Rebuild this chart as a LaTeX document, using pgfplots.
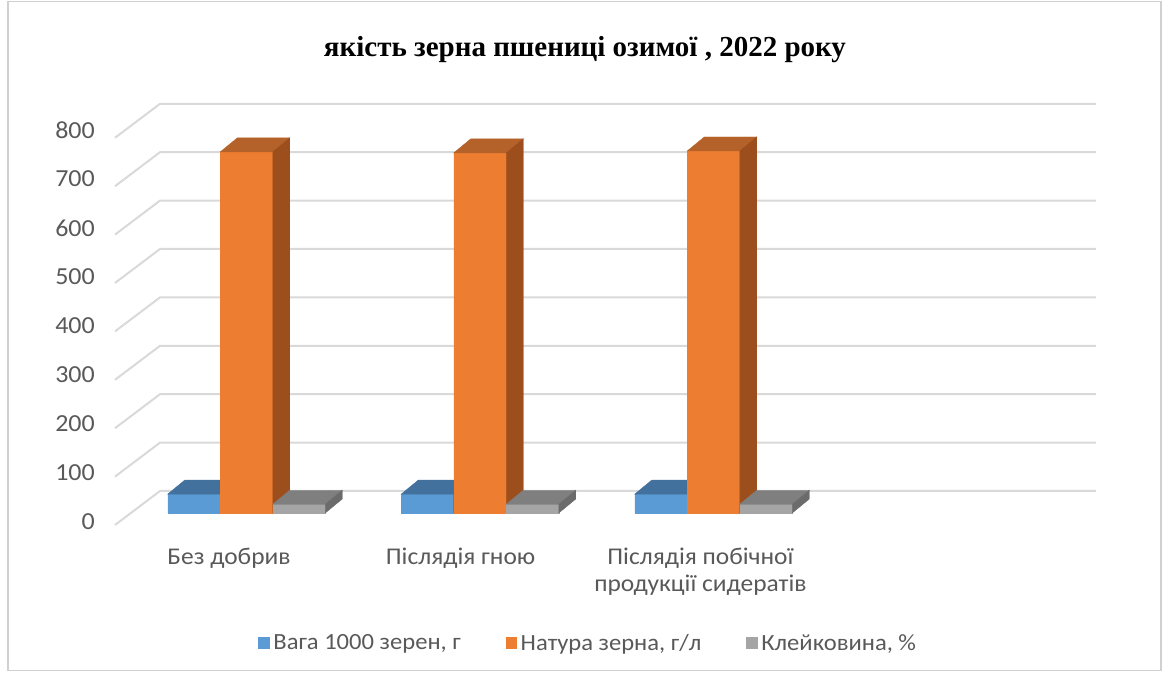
\documentclass[border=0pt]{standalone}
\usepackage{pgfplots}
\pgfplotsset{compat=1.18}
\usepackage{pgfplotstable}
\usepackage{fontspec}
\setmainfont{Carlito}[FakeStretch=1.06]
\newfontfamily\titlefont{Liberation Serif}
\definecolor{bluef}{HTML}{5B9BD5}
\definecolor{bluet}{HTML}{41719C}
\definecolor{blues}{HTML}{3A6590}
\definecolor{orangef}{HTML}{ED7D31}
\definecolor{oranget}{HTML}{B5622A}
\definecolor{oranges}{HTML}{9C4F1D}
\definecolor{grayf}{HTML}{A5A5A5}
\definecolor{grayt}{HTML}{7F7F7F}
\definecolor{grays}{HTML}{6B6B6B}
\definecolor{gridc}{HTML}{D9D9D9}
\definecolor{textc}{HTML}{595959}
\definecolor{framec}{HTML}{D0D0D0}

\pgfdeclareplotmark{nothing}{}

% group, weight of 1000 grains (g), test weight (g/l), gluten (%)
\pgfplotstableread{
g v1 v2 v3
0 39 746 18
1 39 744 18
2 39 748 18
}\data

\pgfplotsset{
 cube/.style n args={4}{only marks, mark=nothing, scatter, forget plot,
   visualization depends on={\thisrow{#1}*0.484 \as \hh},
   scatter/@pre marker code/.code={%
     \fill[#4] (-26.25pt,-\hh pt) rectangle (26.25pt,0pt);
     \fill[#2] (-26.25pt,0pt) -- (26.25pt,0pt) -- (43.25pt,14pt) -- (-9.25pt,14pt) -- cycle;
     \fill[#3] (26.25pt,0pt) -- (43.25pt,14pt) -- (43.25pt,14pt-\hh pt) -- (26.25pt,-\hh pt) -- cycle;
   },
   scatter/@post marker code/.code={}}
}

\begin{document}
\begin{tikzpicture}
\useasboundingbox (0,0) rectangle (1166pt,673pt);
\begin{axis}[
  at={(0pt,0pt)}, anchor=south west,
  x=233.5pt, y=0.484pt,
  xmin=-1.0557, xmax=3.9379, ymin=-330.6, ymax=1059.9,
  axis lines=none, xtick=\empty, ytick=\empty,
  enlargelimits=false, clip=false,
  legend style={draw=none, fill=none, at={(rel axis cs:0.5045,0.0446)}, anchor=center,
    legend columns=-1, font=\fontsize{23.2}{28}\selectfont, text=textc,
    /tikz/every even column/.append style={column sep=43pt},
    /tikz/every odd column/.append style={column sep=2pt},
    legend cell align=left},
]
% gridlines (back wall + left side wall)
\pgfplotsinvokeforeach{0,100,...,800}{
  \draw[gridc, line width=2pt] (axis cs:-0.5632,{#1-24.8}) -- (axis cs:-0.3704,{#1+45.45}) -- (axis cs:3.638,{#1+45.45});
  \node[anchor=east, inner sep=0pt, text=textc, font=\fontsize{24.5}{28}\selectfont] at (axis cs:-0.649,{-18.6+1.0124*#1}) {#1};
}
% bars (front faces) and their 3-D faces
\addplot[ybar, bar width=52.5pt, bar shift=-52.5pt, fill=bluef, draw=none, forget plot] table[x=g,y=v1]{\data};
\addplot[ybar, bar width=52.5pt, bar shift=0pt, fill=orangef, draw=none, forget plot] table[x=g,y=v2]{\data};
\addplot[ybar, bar width=52.5pt, bar shift=52.5pt, fill=grayf, draw=none, forget plot] table[x=g,y=v3]{\data};
\addplot[cube={v1}{bluet}{blues}{bluef}] table[x expr=\thisrow{g}-0.22484, y=v1]{\data};
\addplot[cube={v2}{oranget}{oranges}{orangef}] table[x=g, y=v2]{\data};
\addplot[cube={v3}{grayt}{grays}{grayf}] table[x expr=\thisrow{g}+0.22484, y=v3]{\data};

% category labels
\node[anchor=base, text=textc, font=\fontsize{24}{28}\selectfont] at (axis cs:-0.075,-105.4) {Без добрив};
\node[anchor=base, text=textc, font=\fontsize{24}{28}\selectfont] at (axis cs:0.917,-105.4) {Післядія гною};
\node[anchor=base, text=textc, font=\fontsize{24}{28}\selectfont] at (axis cs:1.944,-105.4) {Післядія побічної};
\node[anchor=base, text=textc, font=\fontsize{24}{28}\selectfont] at (axis cs:1.944,-163.2) {продукції сидератів};

% title
\node[font=\titlefont\bfseries\fontsize{29}{34}\selectfont] at (rel axis cs:0.5017,0.9257) {якість зерна пшениці озимої , 2022 року};

% legend
\addlegendimage{legend image code/.code={\fill[bluef] (0pt,-5pt) rectangle (10.5pt,5.5pt);}}
\addlegendentry{Вага 1000 зерен, г}
\addlegendimage{legend image code/.code={\fill[orangef] (0pt,-5pt) rectangle (10.5pt,5.5pt);}}
\addlegendentry{Натура зерна, г/л}
\addlegendimage{legend image code/.code={\fill[grayf] (0pt,-5pt) rectangle (10.5pt,5.5pt);}}
\addlegendentry{Клейковина, \%}

% chart area frame
\draw[framec, line width=1.5pt] (rel axis cs:0.007,0.004) rectangle (rel axis cs:0.9957,0.998);
\end{axis}
\end{tikzpicture}
\end{document}
